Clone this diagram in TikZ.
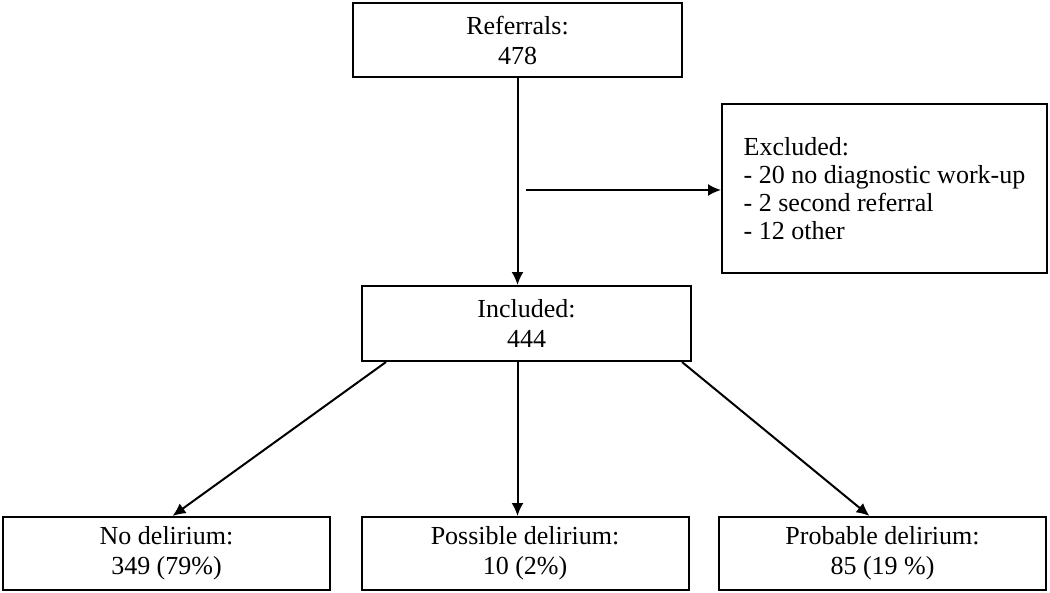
\documentclass[tikz,border=0pt]{standalone}
\usepackage{fontspec}
\setmainfont{Liberation Serif}
\usepackage{tikz}
\usetikzlibrary{arrows.meta,positioning,calc}
\tikzset{>={Latex[length=13pt,width=12pt]}}
\tikzset{box/.style={draw,rectangle,line width=2pt,align=center,inner sep=0pt,font=\fontsize{26}{30}\selectfont}}

\begin{document}
\begin{tikzpicture}[x=1pt,y=-1pt,line width=2pt]
                \useasboundingbox (0,0) rectangle (1050,592);
                \node[box,minimum width=329pt,minimum height=74pt] (ref) at (517.5,40) {Referrals:\\478};
                \node[box,minimum width=329pt,minimum height=75pt] (inc) at (526.5,323.5) {Included:\\444};
                \node[box,align=left,minimum width=325pt,minimum height=169pt,font=\fontsize{26}{28}\selectfont] (exc) at (884.5,188.5) {Excluded:\\- 20 no diagnostic work-up\\- 2 second referral\\- 12 other};
                \node[box,minimum width=327pt,minimum height=73pt] (no) at (166.5,553.5) {No delirium:\\349 (79\%)};
                \node[box,minimum width=327pt,minimum height=73pt] (pos) at (525,553.5) {Possible delirium:\\10 (2\%)};
                \node[box,minimum width=327pt,minimum height=73pt] (prob) at (882.5,553.5) {Probable delirium:\\85 (19 \%)};
                \coordinate (branch) at (526,190);
                \draw[->] (ref.south) -- (ref.south |- inc.north);
                \draw[->] (branch) -- (branch -| exc.west);
                \draw[->] ([xshift=25pt]inc.south west) -- ([xshift=6pt]no.north);
                \draw[->] (ref.south |- inc.south) -- (ref.south |- pos.north);
                \draw[->] ([xshift=-10pt]inc.south east) -- ([xshift=-13pt]prob.north);
            \end{tikzpicture}
\end{document}
